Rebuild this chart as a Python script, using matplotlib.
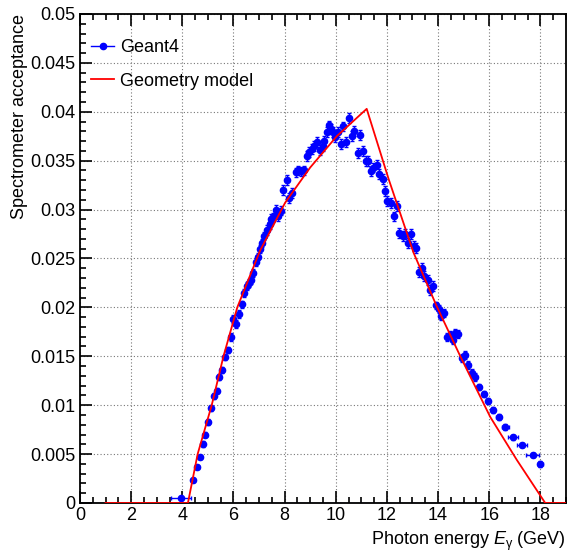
import matplotlib
matplotlib.use('Agg')
import matplotlib.pyplot as plt
from matplotlib.lines import Line2D
from matplotlib.ticker import MultipleLocator

plt.rcParams['font.family'] = ['Liberation Sans', 'DejaVu Sans']
plt.rcParams['mathtext.fontset'] = 'custom'
plt.rcParams['mathtext.rm'] = 'Liberation Sans'
plt.rcParams['mathtext.it'] = 'Liberation Sans:italic'

# Geant4 simulation points (photon energy in GeV, acceptance)
g4_energy = [3.94, 4.41, 4.59, 4.69, 4.80, 4.90, 5.02, 5.13, 5.24, 5.35,
             5.45, 5.57, 5.67, 5.78, 5.89, 6.00, 6.10, 6.22, 6.33, 6.43,
             6.54, 6.61, 6.69, 6.78, 6.89, 6.95, 7.04, 7.13, 7.21, 7.30,
             7.41, 7.46, 7.56, 7.66, 7.76, 7.85, 7.95, 8.09, 8.19, 8.29,
             8.44, 8.54, 8.63, 8.74, 8.87, 8.97, 9.07, 9.16, 9.26, 9.39,
             9.49, 9.55, 9.65, 9.74, 9.82, 9.91, 9.98, 10.08, 10.20, 10.30,
             10.39, 10.52, 10.65, 10.72, 10.86, 10.95, 11.06, 11.19, 11.28, 11.38,
             11.47, 11.61, 11.71, 11.83, 11.93, 12.02, 12.15, 12.29, 12.39, 12.49,
             12.61, 12.72, 12.82, 12.94, 13.04, 13.15, 13.26, 13.37, 13.47, 13.59,
             13.69, 13.80, 13.92, 14.02, 14.12, 14.24, 14.35, 14.45, 14.57, 14.67,
             14.78, 14.93, 15.06, 15.19, 15.32, 15.45, 15.61, 15.78, 15.95, 16.16,
             16.38, 16.63, 16.93, 17.28, 17.70, 18.00]
g4_accept = [0.0005, 0.0023, 0.0037, 0.0047, 0.0060, 0.0070, 0.0083, 0.0097, 0.0109, 0.0115,
             0.0129, 0.0136, 0.0149, 0.0156, 0.0170, 0.0188, 0.0183, 0.0193, 0.0203, 0.0215,
             0.0222, 0.0225, 0.0228, 0.0235, 0.0246, 0.0252, 0.0260, 0.0266, 0.0273, 0.0279,
             0.0285, 0.0290, 0.0292, 0.0300, 0.0293, 0.0299, 0.0320, 0.0330, 0.0312, 0.0317,
             0.0338, 0.0340, 0.0339, 0.0340, 0.0355, 0.0359, 0.0362, 0.0365, 0.0369, 0.0361,
             0.0365, 0.0370, 0.0379, 0.0386, 0.0382, 0.0379, 0.0374, 0.0379, 0.0367, 0.0385,
             0.0369, 0.0394, 0.0375, 0.0380, 0.0358, 0.0376, 0.0360, 0.0350, 0.0350, 0.0339,
             0.0343, 0.0346, 0.0336, 0.0331, 0.0319, 0.0309, 0.0307, 0.0293, 0.0304, 0.0276,
             0.0273, 0.0275, 0.0266, 0.0275, 0.0263, 0.0261, 0.0236, 0.0240, 0.0232, 0.0228,
             0.0218, 0.0222, 0.0202, 0.0198, 0.0191, 0.0194, 0.0170, 0.0172, 0.0167, 0.0174,
             0.0173, 0.0148, 0.0151, 0.0141, 0.0133, 0.0129, 0.0119, 0.0111, 0.0104, 0.0095,
             0.0088, 0.0078, 0.0067, 0.0059, 0.0049, 0.0040]
g4_xerr = [0.40] + [0.05] * 108 + [0.08, 0.10, 0.14, 0.18, 0.20, 0.25, 0.10]
g4_yerr = [0.0001, 0.0002, 0.0002, 0.0002, 0.0003, 0.0003, 0.0003, 0.0003, 0.0003, 0.0003,
           0.0003, 0.0003, 0.0003, 0.0003, 0.0004, 0.0004, 0.0004, 0.0004, 0.0004, 0.0004,
           0.0004, 0.0004, 0.0004, 0.0004, 0.0004, 0.0004, 0.0004, 0.0004, 0.0004, 0.0005,
           0.0005, 0.0005, 0.0005, 0.0005, 0.0005, 0.0005, 0.0005, 0.0005, 0.0005, 0.0005,
           0.0005, 0.0005, 0.0005, 0.0005, 0.0005, 0.0005, 0.0005, 0.0005, 0.0005, 0.0005,
           0.0005, 0.0005, 0.0005, 0.0005, 0.0005, 0.0005, 0.0005, 0.0005, 0.0005, 0.0005,
           0.0005, 0.0005, 0.0005, 0.0005, 0.0005, 0.0005, 0.0005, 0.0005, 0.0005, 0.0005,
           0.0005, 0.0005, 0.0005, 0.0005, 0.0005, 0.0005, 0.0005, 0.0005, 0.0005, 0.0005,
           0.0005, 0.0005, 0.0005, 0.0005, 0.0005, 0.0005, 0.0005, 0.0005, 0.0005, 0.0005,
           0.0005, 0.0005, 0.0004, 0.0004, 0.0004, 0.0004, 0.0004, 0.0004, 0.0004, 0.0004,
           0.0004, 0.0004, 0.0004, 0.0004, 0.0004, 0.0004, 0.0003, 0.0003, 0.0003, 0.0003,
           0.0003, 0.0003, 0.0003, 0.0002, 0.0002, 0.0003]

# geometry model curve
model_energy = [1.0, 4.22, 4.60, 5.15, 5.61, 6.15, 7.04, 8.02, 9.00,
                10.04, 11.21, 12.07, 13.04, 13.95, 14.87, 16.04, 17.08, 18.19, 19.0]
model_accept = [0.0, 0.0, 0.0050, 0.0100, 0.0150, 0.0200, 0.0258, 0.0307, 0.0343,
                0.0375, 0.0403, 0.0331, 0.0256, 0.0201, 0.0150, 0.0088, 0.0044, 0.0, 0.0]


def draw_chart():
    fig = plt.figure(figsize=(5.69, 5.52), dpi=100)
    ax = fig.add_axes([0.1406, 0.0888, 0.854, 0.8859])

    ax.grid(True, linestyle=(0, (1, 2)), color='#777777', linewidth=0.8)
    ax.set_axisbelow(True)

    ax.axhline(0, color='blue', linewidth=1.0, alpha=0.5, zorder=2)
    ax.plot(model_energy, model_accept, color='red', linewidth=1.3, zorder=4)
    ax.errorbar(g4_energy, g4_accept, xerr=g4_xerr, yerr=g4_yerr, fmt='o',
                color='blue', ms=4.5, elinewidth=1.0, capsize=1.2, capthick=1.0,
                zorder=3)

    ax.set_xlim(0, 19)
    ax.set_ylim(0, 0.05)
    ax.xaxis.set_major_locator(MultipleLocator(2))
    ax.xaxis.set_minor_locator(MultipleLocator(0.5))
    ax.yaxis.set_major_locator(MultipleLocator(0.005))
    ax.yaxis.set_minor_locator(MultipleLocator(0.001))
    ax.xaxis.set_major_formatter(plt.FuncFormatter(lambda v, p: '%g' % v))
    ax.yaxis.set_major_formatter(plt.FuncFormatter(lambda v, p: '%g' % round(v, 4)))

    ax.tick_params(which='both', direction='in', top=True, right=False,
                   labelsize=13, width=1.2)
    ax.tick_params(which='major', length=8.5, pad=3)
    ax.tick_params(which='minor', length=4.3)
    for s in ax.spines.values():
        s.set_linewidth(1.3)

    ax.set_xlabel('Photon energy $E_{\\mathrm{\\gamma}}$ (GeV)', fontsize=13,
                  loc='right', labelpad=4)
    ax.set_ylabel('Spectrometer acceptance', fontsize=13, loc='top', labelpad=2)

    handles = [Line2D([], [], color='blue', marker='o', ms=4.5, linewidth=1.0),
               Line2D([], [], color='red', linewidth=1.3)]
    ax.legend(handles, ['Geant4', 'Geometry model'], loc='upper left',
              bbox_to_anchor=(0.0, 0.970), borderaxespad=0.2, frameon=False,
              fontsize=13, handlelength=1.3, handletextpad=0.33, labelspacing=0.9)

    fig.savefig('out.png', dpi=100)


if __name__ == '__main__':
    draw_chart()
